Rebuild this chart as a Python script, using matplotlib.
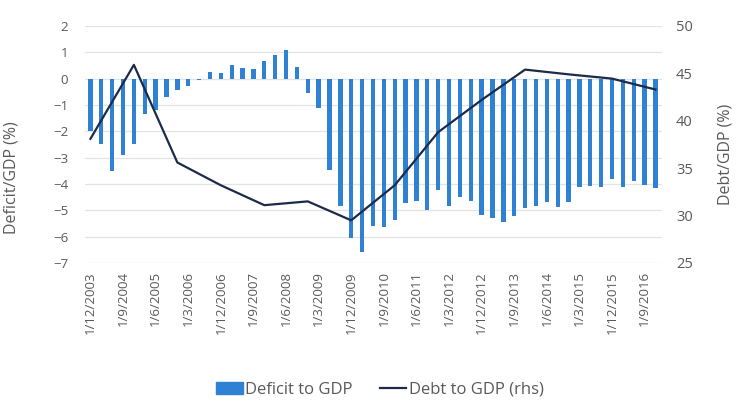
import matplotlib.pyplot as plt
from matplotlib.lines import Line2D
from matplotlib.patches import Patch

plt.rcParams['font.family'] = ['Open Sans', 'DejaVu Sans']

# quarterly deficit to GDP (%), Dec 2003 .. Dec 2016
quarters = []
for y in range(2003, 2017):
    for m in (3, 6, 9, 12):
        if (y, m) >= (2003, 12):
            quarters.append(f"1/{m}/{y}")

deficit = [-2.0, -2.47, -3.52, -2.91, -2.47, -1.36, -1.19, -0.71, -0.43, -0.28,
           -0.05, 0.27, 0.2, 0.53, 0.42, 0.36, 0.68, 0.9, 1.1, 0.46,
           -0.53, -1.13, -3.48, -4.82, -6.05, -6.58, -5.58, -5.65, -5.37, -4.71,
           -4.63, -4.97, -4.21, -4.83, -4.48, -4.63, -5.16, -5.3, -5.43, -5.23,
           -4.92, -4.82, -4.67, -4.88, -4.67, -4.1, -4.06, -4.1, -3.8, -4.12,
           -3.9, -4.02, -4.15]

# annual debt to GDP (%), December of each year
debt_dates = [f"1/12/{y}" for y in range(2003, 2017)]
debt = [38.1, 45.9, 35.6, 33.2, 31.1, 31.5, 29.5, 33.2, 38.8, 42.2,
        45.4, 44.9, 44.45, 43.3]

bar_color = '#2F82D3'
line_color = '#1C2B4A'
txt = '#595959'

fig = plt.figure(figsize=(7.37, 4.08), dpi=100)
ax = fig.add_axes([85 / 737, 1 - 263 / 408, (662 - 85) / 737, (263 - 26) / 408])
x = list(range(len(quarters)))
ax.bar(x, deficit, width=0.4, color=bar_color, zorder=3)
ax.set_ylim(-7, 2)
ax.set_yticks(range(-7, 3))
ax.set_xlim(-0.5, 52.6)
ax.set_xticks(x[::3])
ax.set_xticklabels(quarters[::3], rotation=90)
ax.grid(axis='y', color='#e3e3e3', lw=0.9, zorder=0)
ax.set_ylabel('Deficit/GDP (%)', color=txt, fontsize=11.5)
ax.yaxis.set_label_coords(-0.113, 0.36)
for s in ax.spines.values():
    s.set_visible(False)
ax.tick_params(length=0, colors=txt, labelsize=9.5)
ax.tick_params(axis='y', pad=12)
ax.tick_params(axis='x', pad=6)

ax2 = ax.twinx()
dx = [quarters.index(d) for d in debt_dates]
ax2.plot(dx, debt, color=line_color, lw=1.6, zorder=4)
ax2.set_ylim(25, 50)
ax2.set_yticks(range(25, 51, 5))
ax2.set_ylabel('Debt/GDP (%)', color=txt, fontsize=11.5)
ax2.yaxis.set_label_coords(1.097, 0.46)
for s in ax2.spines.values():
    s.set_visible(False)
ax2.tick_params(length=0, colors=txt, labelsize=10.5, pad=10)

handles = [Patch(color=bar_color), Line2D([], [], color=line_color, lw=1.6)]
fig.legend(handles, ['Deficit to GDP', 'Debt to GDP (rhs)'], loc='center',
           bbox_to_anchor=(380 / 737, 1 - 390 / 408), ncol=2, frameon=False,
           fontsize=12, labelcolor=txt, handlelength=1.6, handletextpad=0.15,
           columnspacing=1.6)

fig.savefig('out.png', dpi=100)
